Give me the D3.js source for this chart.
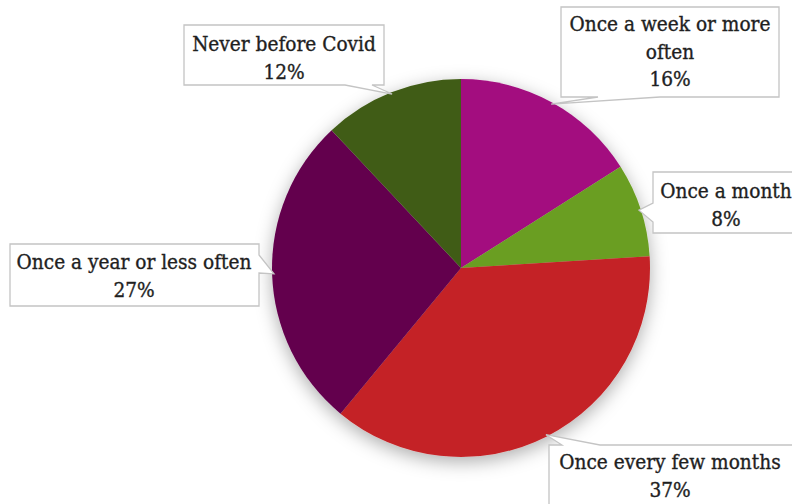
<!DOCTYPE html>
<html>
<head>
<meta charset="utf-8">
<script src="https://cdn.jsdelivr.net/npm/d3@7"></script>
<style>
  html, body { margin: 0; padding: 0; background: #fff; }
  svg { display: block; }
  text { font-family: "DejaVu Serif Condensed", "DejaVu Serif", serif; font-stretch: condensed; fill: #1f1f1f; stroke: #1f1f1f; stroke-width: 0.35px; }
</style>
</head>
<body>
<svg id="chart" width="792" height="504"></svg>
<script>
// ---- data ----
const categories = ["Once a week or more often", "Once a month", "Once every few months", "Once a year or less often", "Never before Covid"];
const values = [16, 8, 37, 27, 12];
const colors = ["#A3117F", "#6A9E20", "#C42225", "#63064D", "#415C16"];
// label text lines (category wrapped as in the original)
const labelLines = [
  ["Once a week or more", "often"],
  ["Once a month"],
  ["Once every few months"],
  ["Once a year or less often"],
  ["Never before Covid"]
];

// ---- layout ----
const W = 792, H = 504;
const cx = 461, cy = 268, R = 189;
const boxes = [
  { x: 561, y: 7,   w: 218, h: 90, tx: 670, ty: 31,  side: "bottom", b0: 598, b1: 660 },
  { x: 653, y: 172, w: 160, h: 61, tx: 726, ty: 198, side: "left",   b0: 203, b1: 222 },
  { x: 549, y: 445, w: 260, h: 70, tx: 670, ty: 469, side: "top",    b0: 562, b1: 600 },
  { x: 10,  y: 244, w: 249, h: 62, tx: 134, ty: 269, side: "right",  b0: 255, b1: 273 },
  { x: 184, y: 25,  w: 200, h: 60, tx: 284, ty: 51,  side: "bottom", b0: 345, b1: 372 }
];
const lineH = 27.5;

const svg = d3.select("#chart");
const defs = svg.append("defs");
const f = defs.append("filter").attr("id", "shadow")
  .attr("x", "-30%").attr("y", "-30%").attr("width", "160%").attr("height", "160%");
f.append("feDropShadow").attr("dx", 0).attr("dy", 5).attr("stdDeviation", 9)
  .attr("flood-color", "#000").attr("flood-opacity", 0.32);

const pie = d3.pie().sort(null).value(d => d)(values);
const arc = d3.arc().innerRadius(0).outerRadius(R);
const tipArc = d3.arc().innerRadius(R * 0.99).outerRadius(R * 0.99);

const g = svg.append("g").attr("transform", `translate(${cx},${cy})`);
g.append("g").attr("filter", "url(#shadow)")
  .selectAll("path").data(pie).join("path")
  .attr("d", arc)
  .attr("fill", (d, i) => colors[i]);

// callouts
function calloutPath(b, tip) {
  const x0 = b.x, y0 = b.y, x1 = b.x + b.w, y1 = b.y + b.h;
  const [tx, ty] = tip;
  let p;
  if (b.side === "bottom") {
    p = `M${x0},${y0}H${x1}V${y1}H${b.b1}L${tx},${ty}L${b.b0},${y1}H${x0}Z`;
  } else if (b.side === "top") {
    p = `M${x0},${y0}H${b.b0}L${tx},${ty}L${b.b1},${y0}H${x1}V${y1}H${x0}Z`;
  } else if (b.side === "left") {
    p = `M${x0},${y0}H${x1}V${y1}H${x0}V${b.b1}L${tx},${ty}L${x0},${b.b0}Z`;
  } else {
    p = `M${x0},${y0}H${x1}V${b.b0}L${tx},${ty}L${x1},${b.b1}V${y1}H${x0}Z`;
  }
  return p;
}

const labels = svg.append("g");
pie.forEach((d, i) => {
  const c = tipArc.centroid(d);
  const tip = [c[0] + cx, c[1] + cy];
  const b = boxes[i];
  labels.append("path")
    .attr("d", calloutPath(b, tip))
    .attr("fill", "#fff")
    .attr("stroke", "#C4C4C4")
    .attr("stroke-width", 1.3);
  const lines = labelLines[i].concat([values[i] + "%"]);
  const t = labels.append("text")
    .attr("class", "lbl")
    .attr("text-anchor", "middle")
    .attr("font-size", 20);
  lines.forEach((ln, k) => {
    t.append("tspan").attr("x", b.tx).attr("y", b.ty + k * lineH).text(ln);
  });
});

// fit font size so that the longest label matches the original width (~235px)
const probe = svg.append("text").attr("font-size", 20).text("Once a year or less often");
const wProbe = probe.node().getComputedTextLength();
probe.remove();
const fs = 20 * 235 / wProbe;
svg.selectAll("text.lbl").attr("font-size", fs.toFixed(2));
</script>
</body>
</html>
